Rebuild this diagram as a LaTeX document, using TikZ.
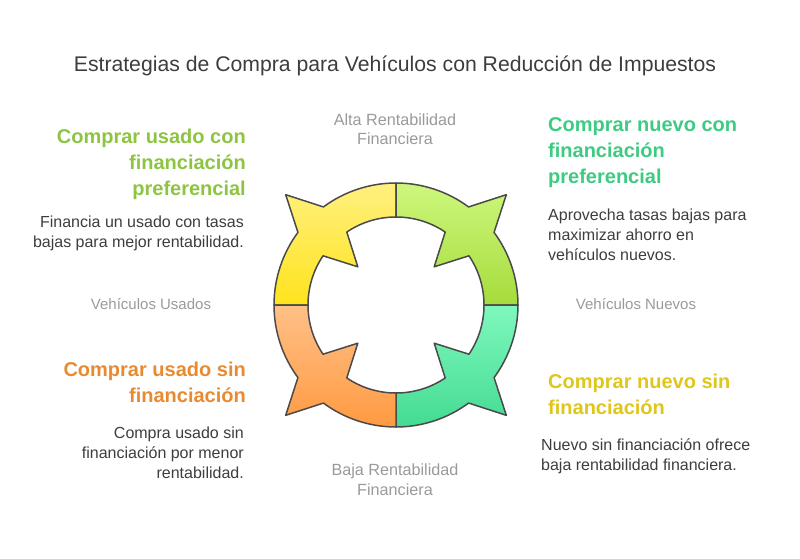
\documentclass[tikz,border=0pt]{standalone}
\usepackage{fontspec}
\setmainfont{Liberation Sans}
\usepackage{xcolor}
\usepackage{tikz}
\usetikzlibrary{calc}

\definecolor{txtdark}{HTML}{3D3D3D}
\definecolor{txtgray}{HTML}{9A9A9A}
\definecolor{ringline}{HTML}{4A4A4A}
\definecolor{hdgreen}{HTML}{8DC441}
\definecolor{hdteal}{HTML}{3DCB82}
\definecolor{hdorange}{HTML}{E88A30}
\definecolor{hdyellow}{HTML}{DFC61A}
\definecolor{ylwtop}{HTML}{FFF080}
\definecolor{ylwbot}{HTML}{FFE31C}
\definecolor{grntop}{HTML}{CDF77C}
\definecolor{grnbot}{HTML}{A6DC3C}
\definecolor{teatop}{HTML}{80F8BE}
\definecolor{teabot}{HTML}{43DB92}
\definecolor{orgtop}{HTML}{FFC087}
\definecolor{orgbot}{HTML}{FF9A42}

\begin{document}
\begin{tikzpicture}[x=1pt,y=-1pt,
    titulo/.style={font=\fontsize{21.2}{25}\selectfont, text=txtdark, inner sep=0},
    cabecera/.style={font=\bfseries\fontsize{20}{26}\selectfont, inner sep=0},
    detalle/.style={font=\fontsize{16}{19.6}\selectfont, text=txtdark, inner sep=0},
    eje/.style={font=\fontsize{16.2}{19.5}\selectfont, text=txtgray, inner sep=0, align=center},
    lado/.style={eje, font=\fontsize{15}{18}\selectfont}]
        %MARCO
        \useasboundingbox (0,0) rectangle (800,559);
        %TITULO
        \node[titulo, anchor=base] (titulo) at (395,72) {Estrategias de Compra para Vehículos con Reducción de Impuestos};
        %ANILLO
        \begin{scope}[shift={(396,305)}, yscale=-1]
            \foreach \a/\ct/\cb in {90/ylwtop/ylwbot, 0/grntop/grnbot, -90/teatop/teabot, 180/orgtop/orgbot}{
                \pgfmathsetmacro{\m}{\a+45}
                \pgfmathsetmacro{\b}{\a+90}
                \shade[top color=\ct, bottom color=\cb, draw=ringline, line width=1.5pt, line join=round]
                    (\a:88) -- (\a:122) arc[start angle=\a, end angle=\m-8.5, radius=122]
                    -- (\m:156) -- (\m+8.5:122) arc[start angle=\m+8.5, end angle=\b, radius=122]
                    -- (\b:88) arc[start angle=\b, end angle=\m+11, radius=88]
                    -- (\m:54) -- (\m-11:88) arc[start angle=\m-11, end angle=\a, radius=88] -- cycle;
            }
        \end{scope}
        %EJES (ancla en la ultima linea)
        \node[eje, anchor=base] (alta) at (395,145) {Alta Rentabilidad\\Financiera};
        \node[eje, anchor=base] (baja) at (395,495) {Baja Rentabilidad\\Financiera};
        \node[lado, anchor=base] (usados) at (151,309) {Vehículos Usados};
        \node[lado, anchor=base] (nuevos) at (636,309) {Vehículos Nuevos};
        %ARRIBA IZQUIERDA
        \node[cabecera, text=hdgreen, align=right, anchor=base east] (ucon) at (246,195) {Comprar usado con\\financiación\\preferencial};
        \node[detalle, align=right, anchor=base east] (uconT) at (244,247) {Financia un usado con tasas\\bajas para mejor rentabilidad.};
        %ARRIBA DERECHA
        \node[cabecera, text=hdteal, align=left, anchor=base west] (ncon) at (548,183) {Comprar nuevo con\\financiación\\preferencial};
        \node[detalle, align=left, anchor=base west] (nconT) at (548,260) {Aprovecha tasas bajas para\\maximizar ahorro en\\vehículos nuevos.};
        %ABAJO IZQUIERDA
        \node[cabecera, text=hdorange, align=right, anchor=base east] (usin) at (246,402) {Comprar usado sin\\financiación};
        \node[detalle, align=right, anchor=base east] (usinT) at (244,478) {Compra usado sin\\financiación por menor\\rentabilidad.};
        %ABAJO DERECHA
        \node[cabecera, text=hdyellow, align=left, anchor=base west] (nsin) at (548,414) {Comprar nuevo sin\\financiación};
        \node[detalle, align=left, anchor=base west] (nsinT) at (541,470) {Nuevo sin financiación ofrece\\baja rentabilidad financiera.};
    \end{tikzpicture}
\end{document}
